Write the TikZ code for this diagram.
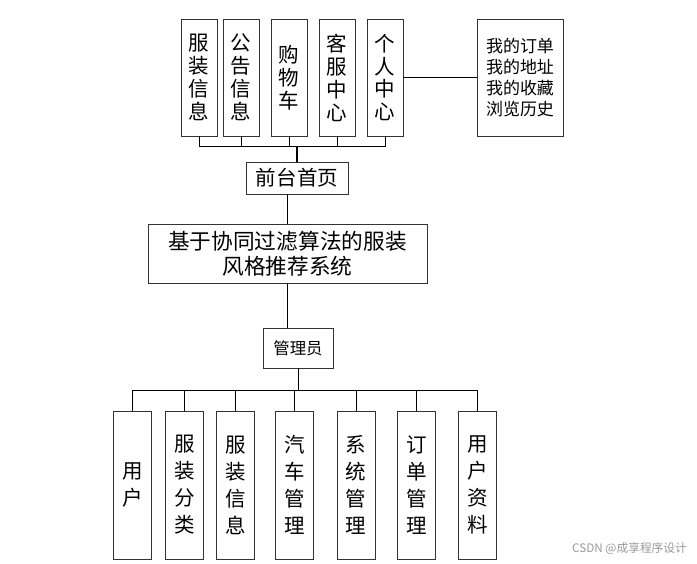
\documentclass[tikz,border=0pt]{standalone}
\usepackage{fontspec}
\setmainfont{Noto Sans CJK SC}
\usepackage{tikz}
\usetikzlibrary{positioning,calc}

\begin{document}
\begin{tikzpicture}[
    x=0.03cm, y=-0.03cm,
    box/.style={rectangle, draw=black!80, line width=0.6pt, inner sep=0pt, align=center},
    topbox/.style={box, minimum width=1.08cm, minimum height=3.51cm, font=\fontsize{17.5}{19.6}\selectfont},
    lowbox/.style={box, minimum width=1.14cm, minimum height=4.44cm, font=\fontsize{17.5}{23}\selectfont},
    link/.style={draw=black, line width=0.6pt}
]
    \useasboundingbox (0,0) rectangle (697,564);

    % front pages
    \node[topbox] (fzxx) at (199,77.5) {服\\装\\信\\息};
    \node[topbox] (ggxx) at (241,77.5) {公\\告\\信\\息};
    \node[topbox] (gwc)  at (289,77.5) {购\\物\\车};
    \node[topbox] (kfzx) at (337,77.5) {客\\服\\中\\心};
    \node[topbox] (grzx) at (385,77.5) {个\\人\\中\\心};
    \node[box, minimum width=2.58cm, minimum height=3.51cm, font=\fontsize{14.5}{18}\selectfont] (wdxx) at (520,77.5) {我的订单\\我的地址\\我的收藏\\浏览历史};
    \node[box, minimum width=3.06cm, minimum height=0.96cm, font=\fontsize{17.5}{20}\selectfont] (home) at (297,178) {前台首页};

    % system
    \node[box, minimum width=8.37cm, minimum height=1.77cm, font=\fontsize{18.5}{21.3}\selectfont] (sys) at (287.5,253.5) {基于协同过滤算法的服装\\风格推荐系统};
    \node[box, minimum width=2.1cm, minimum height=1.2cm, font=\fontsize{14}{16}\selectfont] (admin) at (298,348) {管理员};

    % back end
    \node[lowbox] (yh)   at (132.5,485) {用\\户};
    \node[lowbox] (fzfl) at (184.5,485) {服\\装\\分\\类};
    \node[lowbox] (fzxx2) at (235.5,485) {服\\装\\信\\息};
    \node[lowbox] (qcgl) at (294.5,485) {汽\\车\\管\\理};
    \node[lowbox] (xtgl) at (356,485) {系\\统\\管\\理};
    \node[lowbox] (ddgl) at (416.5,485) {订\\单\\管\\理};
    \node[lowbox] (yhzl) at (477.5,485) {用\\户\\资\\料};

    \coordinate (topbus) at (297,146);
    \coordinate (lowbus) at (298,390);

    \foreach \n in {fzxx,ggxx,gwc,kfzx,grzx}
        \draw[link] (\n.south) |- (topbus);
    \draw[link, line width=1.5pt] (topbus) -- (home.north);
    \draw[link] (grzx) -- (wdxx);
    \draw[link] (sys.north) -- (sys.north |- home.south);
    \draw[link] (sys.south) -- (sys.south |- admin.north);
    \draw[link] (admin.south) -- (lowbus);
    \foreach \n in {yh,fzfl,fzxx2,qcgl,xtgl,ddgl,yhzl}
        \draw[link] (lowbus) -| (\n.north);

    \node[anchor=east, font=\fontsize{10}{12}\selectfont, text=black!40] (mark) at (691,549) {CSDN @成享程序设计};
\end{tikzpicture}
\end{document}
